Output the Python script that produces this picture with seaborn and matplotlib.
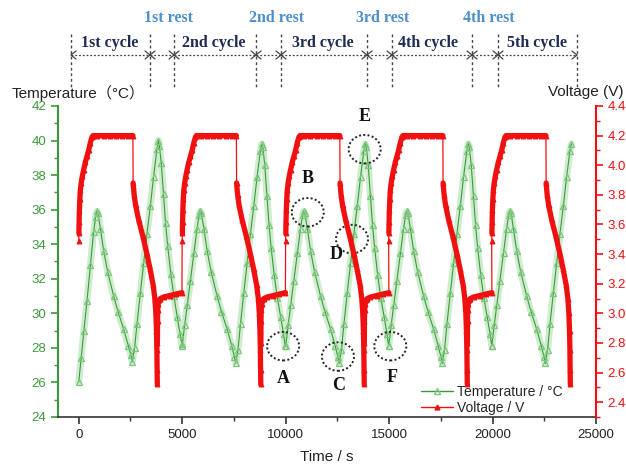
import numpy as np
import matplotlib
matplotlib.use("Agg")
import matplotlib.pyplot as plt
from matplotlib.lines import Line2D
from matplotlib.patches import Ellipse
import seaborn as sns

# ── data ─────────────────────────────────────────────────────
cycle_start = [0, 5000, 10000, 14980, 19960]          # s
last_cycle_end = 3850                                  # offset where the 5th cycle stops

# temperature, offset from cycle start (s) -> °C
temp_offset = [0, 120, 250, 400, 570, 720, 820, 870, 930, 1050, 1210, 1400,
               1690, 1900, 2170, 2400, 2520, 2590, 2700, 2820, 2980, 3140,
               3300, 3460, 3620, 3780, 3850, 3900, 3990, 4100, 4200, 4300,
               4450, 4600, 4760, 4900, 4980]
temp_first = [26.0, 27.4, 29.0, 30.7, 32.8, 34.7, 35.6, 35.9, 35.8, 34.9, 33.6, 32.4,
              31.0, 30.1, 29.1, 28.1, 27.6, 27.2, 28.0, 29.4, 31.2, 32.9,
              34.6, 36.2, 37.9, 39.5, 40.0, 39.7, 38.7, 36.9, 35.2, 33.9,
              32.3, 31.0, 29.8, 28.8, 28.2]
temp_cycle = [28.1, 29.3, 30.5, 31.9, 33.5, 34.9, 35.7, 35.9, 35.8, 34.9, 33.6, 32.4,
              31.0, 30.1, 29.1, 28.1, 27.5, 27.1, 27.9, 29.4, 31.2, 32.9,
              34.6, 36.2, 37.9, 39.4, 39.8, 39.6, 38.6, 36.8, 35.1, 33.8,
              32.2, 30.9, 29.8, 28.8, 28.1]

# voltage, offset from cycle start (s) -> V
charge_offset = [0, 10, 20, 35, 55, 80, 120, 180, 240, 320, 400, 480, 560, 640, 690,
                 900, 1200, 1500, 1800, 2100, 2400, 2620]
charge_volt = [3.49, 3.54, 3.62, 3.70, 3.77, 3.83, 3.88, 3.93, 3.97, 4.02, 4.06, 4.10,
               4.15, 4.19, 4.20, 4.20, 4.20, 4.20, 4.20, 4.20, 4.20, 4.20]
discharge_offset = [2630, 2680, 2750, 2900, 3100, 3300, 3450, 3600, 3680, 3730, 3760,
                    3780, 3790, 3800]
discharge_volt = [3.88, 3.80, 3.73, 3.63, 3.52, 3.40, 3.30, 3.19, 3.10, 3.00, 2.88,
                  2.75, 2.62, 2.52]
rest_offset = [3805, 3810, 3820, 3840, 3880, 3950, 4100, 4400, 4700, 4990]
rest_volt = [2.80, 2.95, 3.02, 3.06, 3.09, 3.10, 3.11, 3.12, 3.13, 3.14]

# marked points A-F (time s, temperature °C)
point_names = ["A", "B", "C", "D", "E", "F"]
circle_time = [9880, 11070, 12530, 13210, 13820, 15060]
circle_temp = [28.1, 35.85, 27.5, 34.3, 39.5, 28.1]
label_time = [9880, 11070, 12560, 12450, 13820, 15170]
label_temp = [26.2, 37.8, 25.8, 33.4, 41.4, 26.3]

cycle_names = ["1st cycle", "2nd cycle", "3rd cycle", "4th cycle", "5th cycle"]
rest_names = ["1st rest", "2nd rest", "3rd rest", "4th rest"]

# ── assemble series ──────────────────────────────────────────
t_temp, v_temp = [], []
t_volt, v_volt = [], []
volt_segments = []
for k, t0 in enumerate(cycle_start):
    prof = temp_first if k == 0 else temp_cycle
    for o, v in zip(temp_offset, prof):
        if k == len(cycle_start) - 1 and o > last_cycle_end:
            break
        t_temp.append(t0 + o)
        v_temp.append(v)
    phases = [(charge_offset, charge_volt), (discharge_offset, discharge_volt)]
    if k < len(cycle_start) - 1:
        phases.append((rest_offset, rest_volt))
    for i, (offs, vals) in enumerate(phases):
        seg_t = [t0 + o for o in offs]
        t_volt += seg_t
        v_volt += vals
        if i == 0:  # isolated first charge point, thin link
            volt_segments.append((seg_t[1:], vals[1:]))
        else:
            volt_segments.append((seg_t, vals))

# ── style ────────────────────────────────────────────────────
sns.set_theme(style="ticks")
plt.rcParams["font.family"] = ["Liberation Sans", "Noto Sans CJK SC", "DejaVu Sans"]

GREEN = "#3a9a3a"
LIGHT_GREEN = "#7cc67c"
RED = "#f01010"

W, H = 626, 468
fig = plt.figure(figsize=(W / 100, H / 100), dpi=100)
ax = fig.add_axes([58 / W, 1 - 417 / H, 538 / W, 311 / H])
ax2 = ax.twinx()

# temperature
sns.lineplot(x=t_temp, y=v_temp, ax=ax, color="#c4e8c4", linewidth=5, alpha=0.8,
             estimator=None, sort=False, legend=False)
sns.lineplot(x=t_temp, y=v_temp, ax=ax, color=GREEN, linewidth=0.8,
             marker="^", markersize=4.5, markerfacecolor="none",
             markeredgecolor=LIGHT_GREEN, markeredgewidth=0.9,
             estimator=None, sort=False, legend=False)

# voltage: thin connecting line, thick phases
sns.lineplot(x=t_volt, y=v_volt, ax=ax2, color=RED, linewidth=0.9,
             marker="^", markersize=3.5, markerfacecolor=RED, markeredgecolor=RED,
             estimator=None, sort=False, legend=False)
for seg_t, seg_v in volt_segments:
    sns.lineplot(x=seg_t, y=seg_v, ax=ax2, color=RED, linewidth=3.8,
                 estimator=None, sort=False, legend=False)

# axes
ax.set_xlim(-1000, 25000)
ax.set_ylim(24, 42)
ax2.set_ylim(2.3, 4.4)
ax.set_xticks(np.arange(0, 25001, 5000))
ax.set_xticks(np.arange(0, 25001, 2500), minor=True)
ax.set_yticks(np.arange(24, 43, 2))
ax.set_yticks(np.arange(24, 43, 1), minor=True)
ax2.set_yticks(np.arange(2.4, 4.41, 0.2))
ax2.set_yticks(np.arange(2.3, 4.41, 0.1), minor=True)
ax2.set_yticklabels([f"{v:.1f}" for v in np.arange(2.4, 4.41, 0.2)])
ax.set_xlabel("")
ax.set_ylabel("")
ax2.set_ylabel("")

for a in (ax, ax2):
    a.spines["top"].set_visible(False)
ax.spines["left"].set_color(GREEN)
ax.spines["left"].set_linewidth(1.5)
ax2.spines["right"].set_color(RED)
ax2.spines["right"].set_linewidth(1.5)
ax2.spines["left"].set_visible(False)
ax.spines["right"].set_visible(False)
ax.spines["bottom"].set_color("#333333")
ax.spines["bottom"].set_linewidth(1.2)
ax2.spines["bottom"].set_visible(False)

ax.tick_params(axis="y", which="both", colors=GREEN, labelsize=9.5, direction="out")
ax.tick_params(axis="y", which="major", length=5, width=1.2)
ax.tick_params(axis="y", which="minor", length=3, width=1)
ax2.tick_params(axis="y", which="both", colors=RED, labelsize=9.5, direction="out")
ax2.tick_params(axis="y", which="major", length=5, width=1.2)
ax2.tick_params(axis="y", which="minor", length=3, width=1)
ax.tick_params(axis="x", which="both", colors="#333333", labelsize=9.5, direction="out",
               labelcolor="#222222")
ax.tick_params(axis="x", which="major", length=5, width=1.2)
ax.tick_params(axis="x", which="minor", length=3, width=1)

# circled points
for name, ct, cv, lt, lv in zip(point_names, circle_time, circle_temp, label_time, label_temp):
    ax2.add_patch(Ellipse((ct, cv), 1550, 1.65, transform=ax.transData, fill=False,
                          ls=(0, (1, 1.2)), lw=1.4, color="#222222"))
    ax2.text(lt, lv, name, transform=ax.transData, ha="center", va="center",
             fontsize=13, fontweight="bold", family="Liberation Serif", color="#111111")

# legend
handles = [
    Line2D([], [], color=GREEN, lw=1, marker="^", ms=4, mfc="none", mec=LIGHT_GREEN),
    Line2D([], [], color=RED, lw=1, marker="^", ms=3.5, mfc=RED, mec=RED),
]
ax2.legend(handles, ["Temperature / °C", "Voltage / V"], loc="upper left",
           bbox_to_anchor=(421 / W, 1 - 385 / H), bbox_transform=fig.transFigure,
           frameon=False, fontsize=10, handlelength=2.3, handletextpad=0.3,
           labelspacing=0.15, borderpad=0, borderaxespad=0)

# axis titles
cjk = ["Liberation Sans", "Noto Sans CJK SC", "DejaVu Sans"]
fig.text(12 / W, 1 - 93 / H, "Temperature（°C）", ha="left", va="center",
         fontsize=11, family=cjk, color="#222222")
fig.text(623 / W, 1 - 92 / H, "Voltage (V)", ha="right", va="center",
         fontsize=11, color="#222222")
fig.text(327 / W, 1 - 457 / H, "Time / s", ha="center", va="center",
         fontsize=11, color="#222222")

# ── cycle / rest banner (figure pixels) ─────────────────────
bounds_x = [71, 150, 174, 256, 281, 367, 392, 472, 498, 577]
line_top, line_bottom, arrow_y = 34, 87, 55
for bx in bounds_x:
    fig.add_artist(Line2D([bx / W, bx / W], [1 - line_top / H, 1 - line_bottom / H],
                          transform=fig.transFigure, color="#444444", lw=1,
                          ls=(0, (2, 2))))
for x1, x2 in zip(bounds_x[:-1], bounds_x[1:]):
    fig.add_artist(Line2D([x1 / W, x2 / W], [1 - arrow_y / H] * 2,
                          transform=fig.transFigure, color="#444444", lw=0.9,
                          ls=(0, (1.5, 1.5))))
    for xe, d in ((x1, 1), (x2, -1)):
        fig.add_artist(Line2D([(xe + d * 5) / W, xe / W, (xe + d * 5) / W],
                              [1 - (arrow_y - 4) / H, 1 - arrow_y / H, 1 - (arrow_y + 4) / H],
                              transform=fig.transFigure, color="#444444", lw=0.9))

cycle_label_x = [110, 214, 323, 428, 537]
rest_label_x = [168, 277, 383, 489]
for name, cx in zip(cycle_names, cycle_label_x):
    fig.text(cx / W, 1 - 43 / H, name, ha="center", va="center", fontsize=11.5,
             fontweight="bold", family="Liberation Serif", color="#1f2a55")
for name, rx in zip(rest_names, rest_label_x):
    fig.text(rx / W, 1 - 18 / H, name, ha="center", va="center", fontsize=11.5,
             fontweight="bold", family="Liberation Serif", color="#4d8fcc")

fig.savefig("out.png", dpi=100)
